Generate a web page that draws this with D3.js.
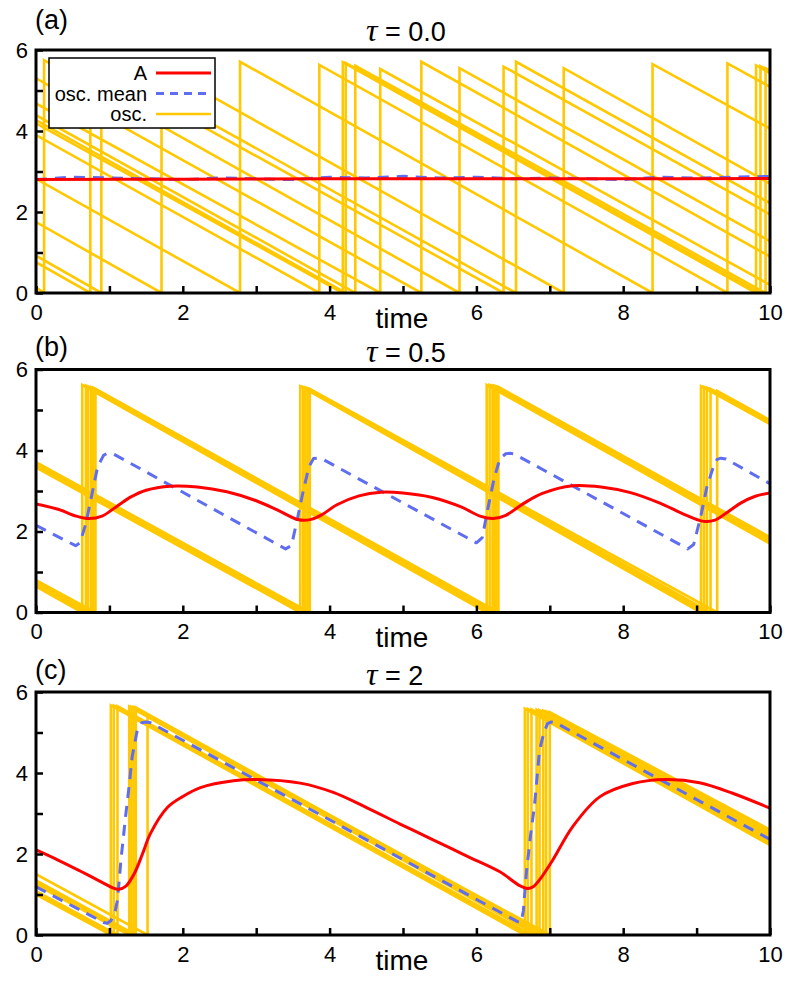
<!DOCTYPE html>
<html>
<head>
<meta charset="utf-8">
<script src="https://cdn.jsdelivr.net/npm/d3@7"></script>
<style>
  html, body { margin: 0; padding: 0; background: #fff; }
  svg { display: block; }
  text { font-family: "Liberation Sans", Arial, Helvetica, sans-serif; fill: #000; }
</style>
</head>
<body>
<svg id="chart" width="800" height="982"></svg>
<script>
// ---------------- data ----------------
const panelLabels = ["(a)", "(b)", "(c)"];
const tauValues = ["0.0", "0.5", "2"];
const xTickValues = [0, 1, 2, 3, 4, 5, 6, 7, 8, 9, 10];
const xTickLabels = [0, 2, 4, 6, 8, 10];
const yTickValues = [0, 1, 2, 3, 4, 5, 6];
const yTickLabels = [0, 2, 4, 6];
const legendLabels = ["A", "osc. mean", "osc."];

// oscillators: vertices [time, value] of each sawtooth trace
const oscA = [
  [[0,0.14],[0.11,0],[0.11,5.75],[5.77,0],[5.77,5.55],[10,1.28]],
  [[0,0.76],[0.74,0],[0.74,5.65],[6.37,0],[6.37,5.59],[10,1.94]],
  [[0,0.92],[0.89,0],[0.89,5.70],[6.54,0],[6.54,5.71],[10,2.22]],
  [[0,1.75],[1.71,0],[1.71,5.55],[7.19,0],[7.19,5.55],[10,2.70]],
  [[0,2.82],[2.78,0],[2.78,5.71],[8.40,0],[8.40,5.65],[10,4.06]],
  [[0,3.90],[3.86,0],[3.86,5.63],[9.42,0],[9.42,5.67],[10,5.09]],
  [[0,4.19],[4.18,0],[4.18,5.70],[9.81,0],[9.81,5.62],[10,5.43]],
  [[0,4.27],[4.22,0],[4.22,5.68],[9.87,0],[9.87,5.60],[10,5.47]],
  [[0,4.39],[4.35,0],[4.35,5.61],[9.94,0],[9.94,5.55],[10,5.49]],
  [[0,4.68],[4.69,0],[4.69,5.53],[10,0.20]],
  [[0,5.30],[5.25,0],[5.25,5.71],[10,0.90]]
];
const oscB = [
  [[0,0.64],[0.63,0],[0.63,5.62],[6.14,0],[6.14,5.62],[10,1.70]],
  [[0,0.68],[0.68,0],[0.68,5.60],[6.18,0],[6.18,5.62],[10,1.74]],
  [[0,0.71],[0.71,0],[0.71,5.58],[6.22,0],[6.22,5.60],[10,1.77]],
  [[0,0.74],[0.75,0],[0.75,5.56],[6.24,0],[6.24,5.60],[10,1.80]],
  [[0,0.77],[0.78,0],[0.78,5.55],[6.27,0],[6.27,5.58],[10,1.83]],
  [[0,0.80],[0.81,0],[0.81,5.52],[6.30,0],[6.30,5.57],[10,1.86]],
  [[0,3.58],[3.60,0],[3.60,5.59],[9.06,0],[9.06,5.59],[10,4.65]],
  [[0,3.62],[3.64,0],[3.64,5.57],[9.10,0],[9.10,5.57],[10,4.67]],
  [[0,3.65],[3.67,0],[3.67,5.55],[9.14,0],[9.14,5.55],[10,4.69]],
  [[0,3.68],[3.70,0],[3.70,5.54],[9.19,0],[9.19,5.52],[10,4.72]],
  [[0,3.71],[3.73,0],[3.73,5.52],[9.28,0],[9.28,5.47],[10,4.75]]
];
const oscC = [
  [[0,1.00],[1.02,0],[1.02,5.67],[6.66,0],[6.66,5.59],[10,2.22]],
  [[0,1.04],[1.06,0],[1.06,5.66],[6.70,0],[6.70,5.58],[10,2.27]],
  [[0,1.08],[1.11,0],[1.11,5.65],[6.75,0],[6.75,5.57],[10,2.32]],
  [[0,1.24],[1.27,0],[1.27,5.64],[6.82,0],[6.82,5.56],[10,2.38]],
  [[0,1.27],[1.30,0],[1.30,5.63],[6.86,0],[6.86,5.55],[10,2.43]],
  [[0,1.31],[1.33,0],[1.33,5.63],[6.91,0],[6.91,5.54],[10,2.48]],
  [[0,1.35],[1.36,0],[1.36,5.62],[6.95,0],[6.95,5.52],[10,2.54]],
  [[0,1.50],[1.52,0],[1.52,5.40],[7.00,0],[7.00,5.50],[10,2.60]]
];

// A (red) per panel
const redA = [[0,2.80],[2,2.81],[4,2.82],[6,2.82],[8,2.82],[10,2.83]];
const redB = [[0,2.68],[0.3,2.55],[0.55,2.38],[0.72,2.32],[0.9,2.38],[1.1,2.62],[1.3,2.86],[1.5,3.02],
  [1.83,3.12],[2.2,3.10],[2.6,2.98],[3.0,2.76],[3.3,2.52],[3.58,2.29],[3.75,2.30],[3.9,2.42],
  [4.1,2.66],[4.4,2.88],[4.7,2.97],[5.0,2.95],[5.4,2.84],[5.8,2.60],[6.05,2.38],[6.23,2.32],
  [6.4,2.40],[6.65,2.70],[6.9,2.94],[7.31,3.13],[7.7,3.10],[8.1,2.96],[8.5,2.70],[8.8,2.45],
  [9.1,2.25],[9.25,2.28],[9.4,2.45],[9.6,2.70],[9.8,2.87],[10,2.95]];
const redC = [[0,2.10],[0.3,1.85],[0.6,1.58],[0.9,1.30],[1.05,1.16],[1.13,1.13],[1.22,1.20],[1.34,1.52],
  [1.45,2.0],[1.56,2.51],[1.79,3.15],[2.0,3.42],[2.24,3.64],[2.69,3.81],[3.01,3.84],[3.60,3.75],
  [4.05,3.52],[4.51,3.14],[4.96,2.74],[5.41,2.35],[5.87,1.95],[6.32,1.56],[6.59,1.22],[6.70,1.15],
  [6.78,1.20],[6.86,1.36],[7.04,1.85],[7.31,2.67],[7.68,3.41],[8.13,3.74],[8.58,3.84],[9.04,3.76],
  [9.49,3.50],[10,3.13]];

// osc. mean (blue dashed) per panel
const blueA = [[0,2.80],[0.5,2.86],[1,2.84],[1.5,2.82],[2,2.80],[2.5,2.84],[3,2.82],[3.5,2.80],
  [4,2.86],[4.5,2.84],[5,2.88],[5.5,2.84],[6,2.86],[6.5,2.82],[7,2.84],[7.5,2.82],[8,2.80],
  [8.5,2.86],[9,2.84],[9.5,2.86],[10,2.88]];
const blueB = [[0,2.15],[0.54,1.65],[0.6,1.72],[0.68,2.2],[0.76,2.9],[0.84,3.6],[0.92,3.88],[0.97,3.93],
  [1.05,3.92],[3.40,1.57],[3.48,1.65],[3.56,2.3],[3.64,3.0],[3.72,3.6],[3.78,3.80],[3.84,3.81],
  [3.9,3.79],[6.0,1.72],[6.08,1.85],[6.16,2.6],[6.24,3.3],[6.32,3.8],[6.40,3.92],[6.46,3.93],
  [6.52,3.91],[8.88,1.57],[8.96,1.68],[9.06,2.4],[9.14,3.1],[9.22,3.55],[9.28,3.78],[9.33,3.81],
  [9.4,3.79],[10,3.18]];
const blueC = [[0,1.19],[0.92,0.31],[0.97,0.29],[1.02,0.35],[1.08,0.6],[1.11,0.86],[1.16,1.9],[1.22,2.92],
  [1.27,3.7],[1.31,4.4],[1.38,5.06],[1.44,5.24],[1.50,5.26],[1.56,5.24],[6.56,0.33],[6.61,0.31],
  [6.64,0.6],[6.68,1.52],[6.74,2.5],[6.79,3.17],[6.86,4.56],[6.92,5.0],[6.97,5.22],[7.02,5.26],
  [7.08,5.24],[10,2.36]];

const oscSets = [oscA, oscB, oscC];
const redSets = [redA, redB, redC];
const blueSets = [blueA, blueB, blueC];

// ---------------- layout ----------------
const COL_RED = "#ff0000", COL_BLUE = "#5f6ef0", COL_OSC = "#ffc800";
const plotLeft = 36, plotRight = 770, plotH = 243;
const panelTops = [50, 369.5, 692];
const labelBaselines = [29, 356, 679];
const titleBaselines = [41, 362, 685];

const svg = d3.select("#chart");
const x = d3.scaleLinear().domain([0, 10]).range([plotLeft, plotRight]);

panelTops.forEach((top, i) => {
  const y = d3.scaleLinear().domain([0, 6]).range([top + plotH, top]);
  const g = svg.append("g");
  const clipId = "clip" + i;
  g.append("clipPath").attr("id", clipId).append("rect")
    .attr("x", plotLeft).attr("y", top).attr("width", plotRight - plotLeft).attr("height", plotH);

  const data = g.append("g").attr("clip-path", `url(#${clipId})`);
  const line = d3.line().x(d => x(d[0])).y(d => y(d[1]));
  const smooth = d3.line().x(d => x(d[0])).y(d => y(d[1])).curve(d3.curveCatmullRom.alpha(0.5));

  data.selectAll("path.osc").data(oscSets[i]).join("path")
    .attr("class", "osc").attr("d", line)
    .attr("fill", "none").attr("stroke", COL_OSC).attr("stroke-width", 2.6)
    .attr("stroke-linejoin", "miter").attr("stroke-miterlimit", 10);

  data.append("path").datum(blueSets[i]).attr("d", line)
    .attr("fill", "none").attr("stroke", COL_BLUE).attr("stroke-width", 3)
    .attr("stroke-dasharray", "11,8").attr("stroke-linejoin", "round");

  data.append("path").datum(redSets[i]).attr("d", smooth)
    .attr("fill", "none").attr("stroke", COL_RED).attr("stroke-width", 3);

  // axes (inward ticks)
  const xAxis = d3.axisBottom(x).tickValues(xTickValues).tickSizeInner(-7).tickSizeOuter(0)
    .tickPadding(11).tickFormat(d => xTickLabels.includes(d) ? String(d) : "");
  const gx = g.append("g").attr("transform", `translate(0,${top + plotH})`).call(xAxis);
  const yAxis = d3.axisLeft(y).tickValues(yTickValues).tickSizeInner(-7).tickSizeOuter(0)
    .tickPadding(8).tickFormat(d => yTickLabels.includes(d) ? String(d) : "");
  const gy = g.append("g").attr("transform", `translate(${plotLeft},0)`).call(yAxis);
  [gx, gy].forEach(a => {
    a.select(".domain").remove();
    a.selectAll(".tick line").attr("stroke", "#000").attr("stroke-width", 2.5);
    a.selectAll(".tick text").attr("font-size", 22).attr("font-family", "Liberation Sans, Arial, sans-serif").attr("fill", "#000");
  });

  // frame
  g.append("rect").attr("x", plotLeft).attr("y", top)
    .attr("width", plotRight - plotLeft).attr("height", plotH)
    .attr("fill", "none").attr("stroke", "#000").attr("stroke-width", 3);

  // x label
  g.append("text").attr("x", 402).attr("y", top + plotH + 34.5)
    .attr("text-anchor", "middle").attr("font-size", 28).text("time");

  // panel label
  g.append("text").attr("x", 35).attr("y", labelBaselines[i])
    .attr("font-size", 27).text(panelLabels[i]);

  // title
  const t = g.append("text").attr("x", 366).attr("y", titleBaselines[i]).attr("font-size", 27);
  t.append("tspan").attr("font-family", "Liberation Serif, DejaVu Serif, serif")
    .attr("font-style", "italic").attr("font-size", 32).text("τ");
  t.append("tspan").text(" = " + tauValues[i]);

  // legend (panel a only)
  if (i === 0) {
    const lg = g.append("g");
    lg.append("rect").attr("x", 49).attr("y", 58).attr("width", 166).attr("height", 70)
      .attr("fill", "#fff").attr("stroke", "#000").attr("stroke-width", 1.5);
    const styles = [
      { c: COL_RED, dash: null, w: 3 },
      { c: COL_BLUE, dash: "8,6", w: 3 },
      { c: COL_OSC, dash: null, w: 2.6 }
    ];
    legendLabels.forEach((lab, k) => {
      const by = 80 + k * 20.5;
      lg.append("text").attr("x", 147).attr("y", by).attr("text-anchor", "end")
        .attr("font-size", 20).text(lab);
      const ln = lg.append("line").attr("x1", 156).attr("x2", 211)
        .attr("y1", by - 7).attr("y2", by - 7)
        .attr("stroke", styles[k].c).attr("stroke-width", styles[k].w);
      if (styles[k].dash) ln.attr("stroke-dasharray", styles[k].dash);
    });
  }
});
</script>
</body>
</html>
